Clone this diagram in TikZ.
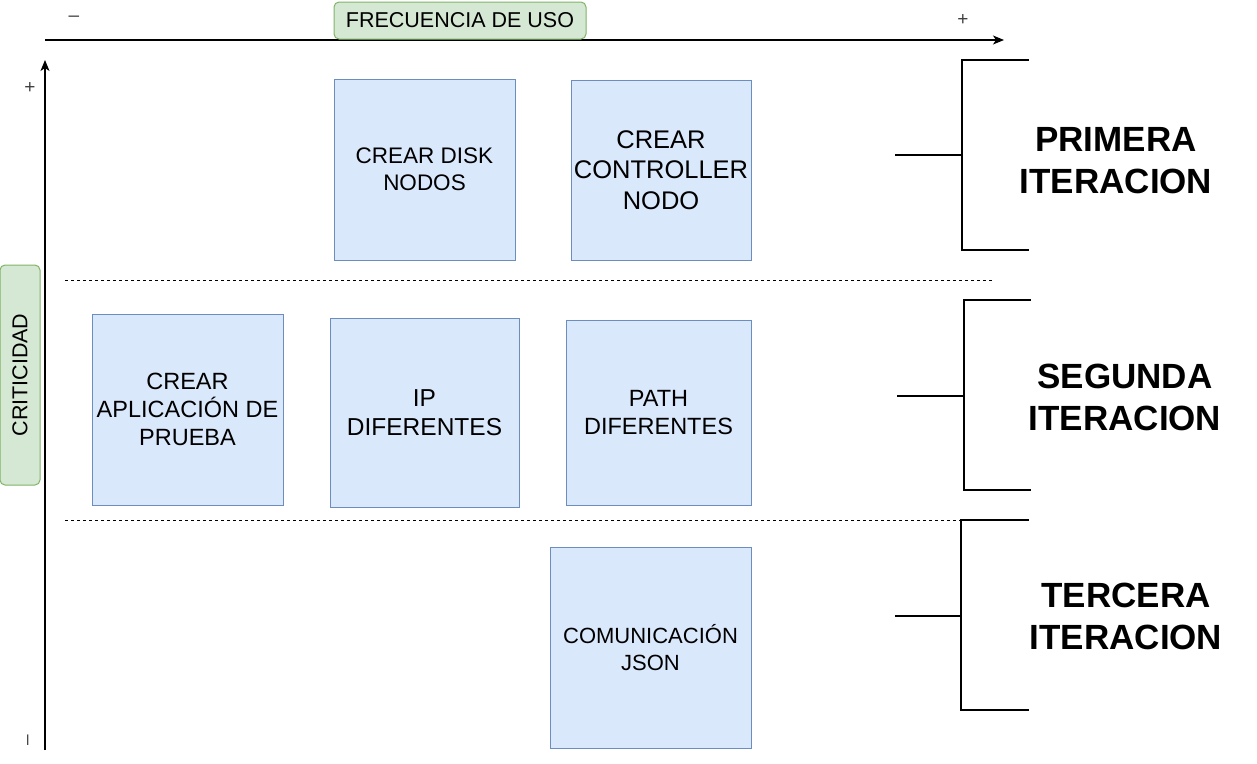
\documentclass[tikz,border=0pt]{standalone}
\usepackage{fontspec}
\setmainfont{Liberation Sans}
\usetikzlibrary{arrows.meta}
\definecolor{boxfill}{HTML}{DAE8FC}
\definecolor{boxline}{HTML}{6C8EBF}
\definecolor{greenfill}{HTML}{D5E8D4}
\definecolor{greenline}{HTML}{82B366}
\newcommand{\fs}[2]{\fontsize{#1}{#2}\selectfont}
\tikzset{
  taskbox/.style={draw=boxline, fill=boxfill, line width=1pt, inner sep=0pt, align=center, text=black},
  greenbox/.style={draw=greenline, fill=greenfill, line width=1pt, rounded corners=5pt, inner sep=0pt, align=center},
  axisline/.style={line width=1.3pt, -{Stealth[length=11pt,width=9pt,inset=3pt]}},
  sepline/.style={line width=0.8pt, dash pattern=on 3pt off 3pt},
  bracketline/.style={line width=2pt, line cap=rect},
  iterlabel/.style={align=center, font=\bfseries\fontsize{35}{42}\selectfont, inner sep=0pt},
  sign/.style={inner sep=0pt, text=black!75, font=\fontsize{19}{22}\selectfont}
}
\begin{document}
\begin{tikzpicture}[x=1pt,y=-1pt]
\useasboundingbox (0,0) rectangle (1257,763);
\fill[white] (0,0) rectangle (1257,763);

% axes
\coordinate (hx0) at (45,40);
\coordinate (hx1) at (1004,40);
\coordinate (vy0) at (45,750);
\coordinate (vy1) at (45,60);
\draw[axisline] (hx0) -- (hx1);
\draw[axisline] (vy0) -- (vy1);

\node[greenbox, minimum width=252pt, minimum height=37pt, font=\fs{21.5}{26}] (freq) at (460,20.5) {FRECUENCIA DE USO};
\node[greenbox, minimum width=40pt, minimum height=220pt] (crit) at (20,375) {};
\node[rotate=90, font=\fs{21.5}{26}, inner sep=0pt] (critt) at (crit.center) {CRITICIDAD};

\node[sign] (hminus) at (74,19) {–};
\node[sign] (hplus) at (963,20) {+};
\node[sign] (vplus) at (30,88) {+};
\node[sign, rotate=90] (vminus) at (30,740) {–};

% separators
\coordinate (s1a) at (65,280);
\coordinate (s1b) at (993,280);
\coordinate (s2a) at (65,520);
\coordinate (s2b) at (961,520);
\draw[sepline] (s1a) -- (s1b);
\draw[sepline] (s2a) -- (s2b);

% task boxes
\node[taskbox, minimum width=181pt, minimum height=181pt, font=\fs{22.5}{27}] (disk) at (424.5,169.5) {CREAR DISK\\NODOS};
\node[taskbox, minimum width=180pt, minimum height=180pt, font=\fs{25.5}{30.5}] (ctrl) at (661,170) {CREAR\\CONTROLLER\\NODO};
\node[taskbox, minimum width=191pt, minimum height=191pt, font=\fs{23.5}{28}] (app) at (187.5,409.5) {CREAR\\APLICACIÓN DE\\PRUEBA};
\node[taskbox, minimum width=189pt, minimum height=189pt, font=\fs{24.5}{29}] (ip) at (424.5,412.5) {IP\\DIFERENTES};
\node[taskbox, minimum width=185pt, minimum height=185pt, font=\fs{23.5}{28}] (path) at (658.5,412.5) {PATH\\DIFERENTES};
\node[taskbox, minimum width=201pt, minimum height=201pt, font=\fs{22}{26.5}] (json) at (650.5,647.5) {COMUNICACIÓN\\JSON};

% brackets
\coordinate (b1s) at (896,155);
\coordinate (b1m) at (962,155);
\coordinate (b1t) at (962,60);
\coordinate (b1b) at (962,250);
\coordinate (b1te) at (1028,60);
\coordinate (b1be) at (1028,250);
\draw[bracketline] (b1te) -- (b1t) -- (b1b) -- (b1be);
\draw[bracketline] (b1s) -- (b1m);

\coordinate (b2s) at (898,396);
\coordinate (b2m) at (964,396);
\coordinate (b2t) at (964,300);
\coordinate (b2b) at (964,490);
\coordinate (b2te) at (1030,300);
\coordinate (b2be) at (1030,490);
\draw[bracketline] (b2te) -- (b2t) -- (b2b) -- (b2be);
\draw[bracketline] (b2s) -- (b2m);

\coordinate (b3s) at (896,616);
\coordinate (b3m) at (961,616);
\coordinate (b3t) at (961,520);
\coordinate (b3b) at (961,710);
\coordinate (b3te) at (1028,520);
\coordinate (b3be) at (1028,710);
\draw[bracketline] (b3te) -- (b3t) -- (b3b) -- (b3be);
\draw[bracketline] (b3s) -- (b3m);

\node[iterlabel] (it1) at (1116,161) {PRIMERA\\ITERACION};
\node[iterlabel] (it2) at (1125,397) {SEGUNDA\\ITERACION};
\node[iterlabel] (it3) at (1126,616) {TERCERA\\ITERACION};
\end{tikzpicture}
\end{document}
